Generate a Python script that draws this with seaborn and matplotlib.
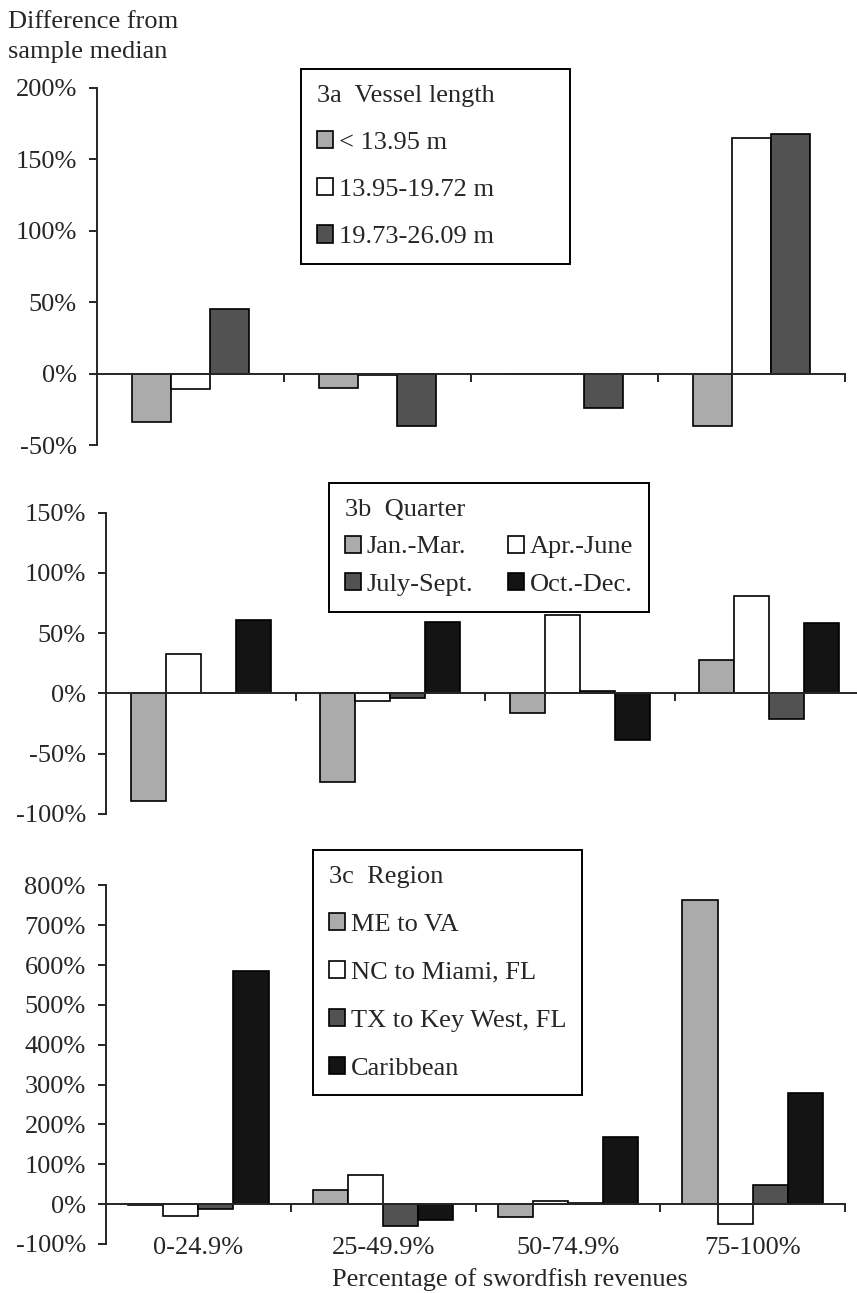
import matplotlib
matplotlib.use("Agg")
import matplotlib.pyplot as plt
from matplotlib.patches import Patch
from matplotlib.ticker import FixedLocator, FuncFormatter
import pandas as pd
import seaborn as sns

# Revenue-share categories (x axis)
categories = ["0-24.9%", "25-49.9%", "50-74.9%", "75-100%"]

# 3a: vessel length classes
length_groups = ["< 13.95 m", "13.95-19.72 m", "19.73-26.09 m"]
length_small = [-34, -10, 0, -37]
length_mid = [-10.5, -1, 0, 165]
length_large = [45.5, -36.5, -24, 167.5]

# 3b: quarter of the year
quarters = ["Jan.-Mar.", "Apr.-June", "July-Sept.", "Oct.-Dec."]
q_jan = [-89.5, -73.5, -16.5, 27.5]
q_apr = [33, -6, 65.5, 81]
q_jul = [0, -4, 2, -21]
q_oct = [61, 59.5, -39, 58.5]

# 3c: region
regions = ["ME to VA", "NC to Miami, FL", "TX to Key West, FL", "Caribbean"]
r_me = [-3, 35, -32, 762]
r_nc = [-29, 72, 7, -51]
r_tx = [-13, -55, 3, 48]
r_car = [584, -40, 169, 280]

LIGHT, WHITE, DARK, BLACK = "#ababab", "#ffffff", "#525252", "#141414"
FS = 19

sns.set_style("ticks")
plt.rcParams["font.family"] = ["Liberation Serif", "DejaVu Serif"]
plt.rcParams["font.size"] = FS
plt.rcParams["axes.linewidth"] = 1.4


def long_frame(groups, series):
    rows = []
    for g, vals in zip(groups, series):
        for c, v in zip(categories, vals):
            rows.append({"category": c, "group": g, "value": v})
    return pd.DataFrame(rows)


W, H = 857, 1293
fig = plt.figure(figsize=(W / 100, H / 100), dpi=100)


def px_axes(left, top, right, bottom):
    return fig.add_axes([left / W, 1 - bottom / H, (right - left) / W, (bottom - top) / H])


def style_axes(ax, yticks, show_cats):
    ax.set_xlim(-0.5, 3.5)
    ax.set_ylim(yticks[0], yticks[-1])
    ax.set_yticks(yticks)
    ax.yaxis.set_major_formatter(FuncFormatter(lambda v, _: f"{int(v)}%"))
    for s in ("top", "right"):
        ax.spines[s].set_visible(False)
    ax.spines["bottom"].set_position(("data", 0))
    ax.spines["left"].set_linewidth(1.4)
    ax.spines["bottom"].set_linewidth(1.4)
    ax.tick_params(axis="y", direction="out", length=6, width=1.4, pad=8.5)
    ax.xaxis.set_minor_locator(FixedLocator([0.5, 1.5, 2.5, 3.5]))
    ax.tick_params(axis="x", which="minor", direction="out", length=5.5, width=1.4)
    if show_cats:
        ax.set_xticks(range(4))
        ax.set_xticklabels(categories)
        ax.tick_params(axis="x", which="major", length=0, pad=24)
    else:
        ax.set_xticks([])
    ax.set_xlabel("")
    ax.set_ylabel("")


def draw(ax, groups, series, colors, width):
    df = long_frame(groups, series)
    sns.barplot(data=df, x="category", y="value", hue="group", order=categories,
                hue_order=groups, palette=colors, saturation=1, width=width,
                edgecolor="black", linewidth=1.2, errorbar=None, legend=False,
                gap=0, ax=ax)


def add_legend(ax, groups, colors, title, anchor, ncol, spacing, order=None, expand=False):
    handles = [Patch(facecolor=c, edgecolor="black", linewidth=1.2, label=g)
               for g, c in zip(groups, colors)]
    if order is not None:
        handles = [handles[i] for i in order]
    leg = ax.legend(handles=handles, title=title, loc="upper left",
                    bbox_to_anchor=anchor, borderaxespad=0, ncol=ncol,
                    mode="expand" if expand else None,
                    frameon=True, fancybox=False, framealpha=1,
                    edgecolor="black", handlelength=0.62, handleheight=0.62,
                    handletextpad=0.22, labelspacing=spacing, columnspacing=1.3,
                    borderpad=0.6, alignment="left", fontsize=FS,
                    title_fontsize=FS)
    leg.get_frame().set_linewidth(1.4)
    return leg


# Panel 3a
ax_a = px_axes(97, 88, 845, 445)
cols_a = [LIGHT, WHITE, DARK]
draw(ax_a, length_groups, [length_small, length_mid, length_large], cols_a, 0.625)
style_axes(ax_a, [-50, 0, 50, 100, 150, 200], False)
add_legend(ax_a, length_groups, cols_a, "3a  Vessel length",
           (0.273, 0.0, 0.36, 1.053), 1, 0.92, expand=True)

# Panel 3b
ax_b = px_axes(106, 512.7, 864, 814)
cols_b = [LIGHT, WHITE, DARK, BLACK]
draw(ax_b, quarters, [q_jan, q_apr, q_jul, q_oct], cols_b, 0.74)
style_axes(ax_b, [-100, -50, 0, 50, 100, 150], False)
add_legend(ax_b, quarters, cols_b, "3b  Quarter", (0.294, 1.0986), 2, 0.56, order=[0, 2, 1, 3])

# Panel 3c
ax_c = px_axes(106, 885.3, 845, 1244)
cols_c = [LIGHT, WHITE, DARK, BLACK]
draw(ax_c, regions, [r_me, r_nc, r_tx, r_car], cols_c, 0.76)
style_axes(ax_c, list(range(-100, 801, 100)), True)
add_legend(ax_c, regions, cols_c, "3c  Region", (0.280, 1.098), 1, 0.95)

fig.text(8 / W, 1 - 11 / H, "Difference from\nsample median", ha="left", va="top",
         fontsize=FS, linespacing=1.45)
fig.text(510 / W, 1 - 1280 / H, "Percentage of swordfish revenues", ha="center",
         va="center", fontsize=FS)

fig.savefig("out.png", dpi=100)
